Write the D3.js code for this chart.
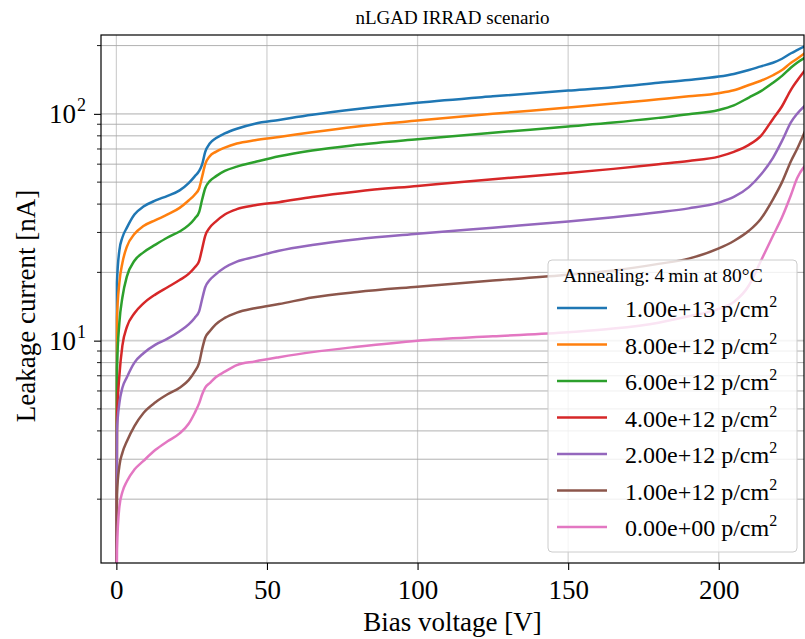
<!DOCTYPE html>
<html>
<head>
<meta charset="utf-8">
<script src="https://cdn.jsdelivr.net/npm/d3@7"></script>
<style>
    body { margin: 0; background: #fff; }
    svg text { font-family: "Liberation Serif", "DejaVu Serif", serif; fill: #000; }
</style>
</head>
<body>
<svg id="svg" width="805" height="639"></svg>
<script>

/**
 * DATA
 */
var voltages = [0, 0.2, 1, 2, 3.5, 6, 9, 13, 17, 21, 24, 26, 27.5, 28.5, 29.5, 31, 33, 36, 40, 46, 54, 65, 80, 100,
    125, 150, 165, 180, 190, 200, 205, 210, 214, 218, 221, 224, 226, 229];

var fluenceLabels = ["1.00e+13", "8.00e+12", "6.00e+12", "4.00e+12", "2.00e+12", "1.00e+12", "0.00e+00"];

var current_1e13 = [0.3, 18, 25, 28.5, 31.5, 36, 39, 41.5, 43.5, 46, 49.5, 53, 56, 60, 68, 74, 78, 82, 86, 90.5, 94, 99, 105, 112,
    119.5, 126.7, 131, 137, 141, 146, 150, 156, 162, 168, 175, 185, 191, 200];
var current_8e12 = [0.3, 12.5, 18, 22, 26, 29.5, 32, 34, 36, 38.5, 41.5, 44, 47, 53, 60, 65, 68, 71, 74, 76.5, 79, 83, 88, 93.4,
    100, 106.6, 111, 116, 119.5, 123.4, 127, 134, 140, 148, 156, 168, 175, 187];
var current_6e12 = [0.3, 7.5, 12, 15.5, 19.2, 22.5, 24.5, 26.5, 28.5, 30.3, 32.3, 34.5, 37, 42, 47, 50.5, 53, 56, 58.5, 61.3, 65, 69, 73, 77.3,
    82.5, 88, 91.5, 96, 99.5, 104, 109, 118, 126, 137, 147, 160, 168, 178];
var current_4e12 = [0.3, 4.5, 7, 9.5, 11.5, 13.2, 14.6, 16, 17.2, 18.5, 19.7, 21, 22.5, 25.5, 29, 31.5, 33.5, 36, 38, 39.5, 40.8, 43, 45.5, 48.1,
    51.5, 54.8, 57.2, 60, 62, 64.8, 68, 73, 80, 95, 108, 128, 140, 158];
var current_2e12 = [0.3, 4.0, 5.3, 6.2, 6.9, 8.0, 8.8, 9.6, 10.2, 11.0, 11.8, 12.6, 13.5, 15.3, 17.2, 18.5, 19.6, 21, 22.3, 23.4, 24.9, 26.4, 28, 29.6,
    31.5, 33.5, 35, 36.8, 38.3, 40.6, 43, 47.5, 54, 64, 76, 92, 100, 110];
var current_1e12 = [0.3, 2.1, 2.8, 3.2, 3.6, 4.2, 4.8, 5.35, 5.8, 6.2, 6.7, 7.3, 8.0, 9.2, 10.3, 11.0, 11.8, 12.6, 13.3, 13.9, 14.5, 15.5, 16.4, 17.3,
    18.4, 19.5, 20.4, 21.8, 23, 25.5, 27.5, 30.5, 34.5, 42, 50, 62, 70, 86];
var current_0 = [0.3, 1.2, 1.85, 2.15, 2.4, 2.7, 2.95, 3.3, 3.6, 3.9, 4.3, 4.8, 5.3, 5.8, 6.2, 6.5, 6.9, 7.3, 7.8, 8.1, 8.45, 8.9, 9.4, 10.0,
    10.45, 10.9, 11.3, 12.0, 12.8, 13.8, 14.8, 17.5, 22.5, 29, 35, 44, 52, 60];

var currents = [current_1e13, current_8e12, current_6e12, current_4e12, current_2e12, current_1e12, current_0];

var xTicks = [0, 50, 100, 150, 200];
var yMajorTicks = [10, 100];
var yMinorTicks = [2, 3, 4, 5, 6, 7, 8, 9, 20, 30, 40, 50, 60, 70, 80, 90, 200];

var colors = ["#1f77b4", "#ff7f0e", "#2ca02c", "#d62728", "#9467bd", "#8c564b", "#e377c2"];


/**
 * LAYOUT
 */
// note: "top" is taken by window.top, so prefix everything
var plotLeft = 101, plotRight = 804, plotTop = 35, plotBottom = 563;

var svg = d3.select("#svg");

var x = d3.scaleLinear().domain([-5.1, 228.3]).range([plotLeft, plotRight]);
var y = d3.scaleLog().domain([1.046, 222.7]).range([plotBottom, plotTop]);

svg.append("clipPath").attr("id", "plotclip")
    .append("rect")
    .attr("x", plotLeft).attr("y", plotTop)
    .attr("width", plotRight - plotLeft).attr("height", plotBottom - plotTop);


/* GRID */
var grid = svg.append("g");

grid.selectAll(".xgrid").data(xTicks).enter().append("line")
    .attr("x1", function(d) { return x(d); })
    .attr("x2", function(d) { return x(d); })
    .attr("y1", plotTop).attr("y2", plotBottom)
    .attr("stroke", "#b0b0b0").attr("stroke-opacity", 0.6).attr("stroke-width", 1.2);

grid.selectAll(".ymajor").data(yMajorTicks).enter().append("line")
    .attr("x1", plotLeft).attr("x2", plotRight)
    .attr("y1", function(d) { return y(d); })
    .attr("y2", function(d) { return y(d); })
    .attr("stroke", "#b0b0b0").attr("stroke-opacity", 0.6).attr("stroke-width", 1.6);

grid.selectAll(".yminor").data(yMinorTicks).enter().append("line")
    .attr("x1", plotLeft).attr("x2", plotRight)
    .attr("y1", function(d) { return y(d); })
    .attr("y2", function(d) { return y(d); })
    .attr("stroke", "#a8a8a8").attr("stroke-width", 0.9);


/* CURVES */
var line = d3.line()
    .x(function(d) { return x(d[0]); })
    .y(function(d) { return y(d[1]); })
    .curve(d3.curveMonotoneX);

var curves = svg.append("g").attr("clip-path", "url(#plotclip)");

currents.forEach(function(series, i) {
    var pts = voltages.map(function(v, k) { return [v, series[k]]; });
    curves.append("path")
        .attr("d", line(pts))
        .attr("fill", "none")
        .attr("stroke", colors[i])
        .attr("stroke-width", 2.5)
        .attr("stroke-linejoin", "round");
});


/* AXES */
var xAxis = svg.append("g")
    .attr("transform", "translate(0," + plotBottom + ")")
    .call(d3.axisBottom(x).tickValues(xTicks).tickSize(7).tickPadding(6).tickFormat(d3.format("d")));
xAxis.select(".domain").remove();
xAxis.selectAll(".tick line").attr("stroke", "#000").attr("stroke-width", 1.1);
xAxis.selectAll(".tick text").attr("font-size", 27).attr("dy", "0.85em");

var yAxis = svg.append("g")
    .attr("transform", "translate(" + plotLeft + ",0)")
    .call(d3.axisLeft(y).tickValues(yMajorTicks).tickSize(7).tickFormat(""));
yAxis.select(".domain").remove();
yAxis.selectAll(".tick line").attr("stroke", "#000").attr("stroke-width", 1.1);

yAxis.selectAll(".tick").append("text")
    .attr("x", -25).attr("dy", "0.33em")
    .attr("text-anchor", "end")
    .attr("font-size", 27)
    .text("10");
yAxis.selectAll(".tick").append("text")
    .attr("x", -24).attr("dy", "-0.2em")
    .attr("text-anchor", "start")
    .attr("font-size", 18)
    .text(function(d) { return Math.round(Math.log10(d)); });

svg.append("g").selectAll("line").data(yMinorTicks).enter().append("line")
    .attr("x1", plotLeft - 4).attr("x2", plotLeft)
    .attr("y1", function(d) { return y(d); })
    .attr("y2", function(d) { return y(d); })
    .attr("stroke", "#000").attr("stroke-width", 0.9);

// frame
svg.append("rect")
    .attr("x", plotLeft).attr("y", plotTop)
    .attr("width", plotRight - plotLeft).attr("height", plotBottom - plotTop)
    .attr("fill", "none").attr("stroke", "#000").attr("stroke-width", 1.2);


/* LABELS */
svg.append("text")
    .attr("x", (plotLeft + plotRight) / 2).attr("y", 24)
    .attr("text-anchor", "middle").attr("font-size", 19)
    .text("nLGAD IRRAD scenario");

svg.append("text")
    .attr("x", (plotLeft + plotRight) / 2).attr("y", 631)
    .attr("text-anchor", "middle").attr("font-size", 27)
    .text("Bias voltage [V]");

svg.append("text")
    .attr("transform", "translate(35,306) rotate(-90)")
    .attr("text-anchor", "middle").attr("font-size", 27)
    .text("Leakage current [nA]");


/* LEGEND */
var legend = svg.append("g");
legend.append("rect")
    .attr("x", 548).attr("y", 260)
    .attr("width", 249).attr("height", 292)
    .attr("rx", 4)
    .attr("fill", "#fff").attr("fill-opacity", 0.8)
    .attr("stroke", "#cccccc").attr("stroke-width", 1);

legend.append("text")
    .attr("x", 563).attr("y", 282)
    .attr("font-size", 19.5)
    .text("Annealing: 4\u2009min at 80\u00b0C");

fluenceLabels.forEach(function(lab, i) {
    var ly = 308 + i * 36.5;
    legend.append("line")
        .attr("x1", 557).attr("x2", 607)
        .attr("y1", ly).attr("y2", ly)
        .attr("stroke", colors[i]).attr("stroke-width", 2.5);
    var t = legend.append("text")
        .attr("x", 625).attr("y", ly + 9)
        .attr("font-size", 24);
    t.append("tspan").text(lab + " p/cm");
    t.append("tspan").attr("dy", -10).attr("font-size", 16).text("2");
});

</script>
</body>
</html>
